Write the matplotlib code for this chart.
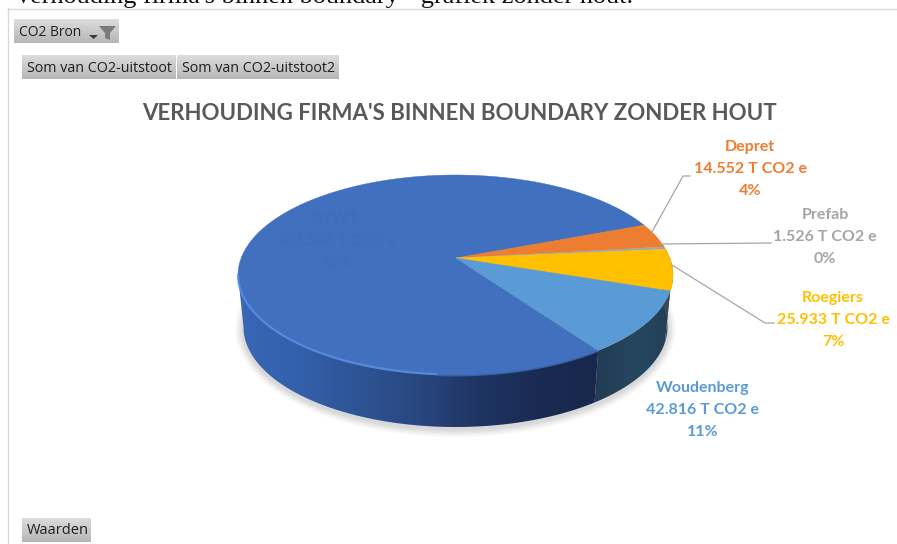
import numpy as np
import matplotlib
matplotlib.use("Agg")
import matplotlib.pyplot as plt
from matplotlib.patches import Polygon, Rectangle
from matplotlib.colors import LinearSegmentedColormap

names = ["ATWT", "Depret", "Prefab", "Roegiers", "Woudenberg"]
values = [302503, 14552, 1526, 25933, 42816]
value_labels = ["302.503 T CO2 e", "14.552 T CO2 e", "1.526 T CO2 e", "25.933 T CO2 e", "42.816 T CO2 e"]
pct_labels = ["78%", "4%", "0%", "7%", "11%"]
colors = ["#4170BF", "#ED7D31", "#A5A5A5", "#FFC000", "#5B9BD5"]
text_colors = ["#3F6CBB", "#ED7D31", "#A5A5A5", "#FFC000", "#5B9BD5"]
title = "VERHOUDING FIRMA'S BINNEN BOUNDARY ZONDER HOUT"

W, H = 897, 544
fig = plt.figure(figsize=(W / 100, H / 100), dpi=100)
ax = fig.add_axes([0, 0, 1, 1])
ax.set_xlim(0, W)
ax.set_ylim(H, 0)
ax.axis("off")

CX, CY, A, B = 455.5, 275, 217.5, 100
AX0, AY0 = 456, 258
DEPTH = 52
START = -49.0
BOTTOM_A = 212


def pt(t, dy=0, a=A):
    t = np.radians(t)
    return np.column_stack([CX + a * np.cos(t), CY - B * np.sin(t) + dy])


def gradient(clip, cmap_colors, extent, zorder, horizontal=True):
    cm = LinearSegmentedColormap.from_list("g", cmap_colors)
    g = np.linspace(0, 1, 256)
    g = g[None, :] if horizontal else g[:, None]
    im = ax.imshow(g, cmap=cm, extent=extent, aspect="auto", zorder=zorder, interpolation="bilinear")
    im.set_clip_path(clip)


# slice angles, clockwise on the screen
frac = np.array(values, float) / sum(values) * 360
ang_ends = START - np.cumsum(frac)
ang_starts = np.r_[START, ang_ends[:-1]]
ang_starts_norm = ((ang_starts + 180) % 360) - 180
ang_ends_norm = ang_starts_norm - frac

# soft shadow beneath the pie
tt = np.linspace(0, 360, 240)
for grow in [8, 6, 4.5, 3, 1.5]:
    ax.add_patch(Polygon(np.column_stack([CX + (BOTTOM_A + grow) * np.cos(np.radians(tt)),
                                          CY + DEPTH + 2 + (B + grow) * np.sin(np.radians(tt))]),
                         closed=True, fc="#000000", ec="none", alpha=0.03, zorder=1))


def wall(t0, t1):
    tt = np.linspace(t0, t1, 150)
    return np.vstack([pt(tt), pt(tt[::-1], DEPTH, BOTTOM_A)])


# side walls
w_start, w_end = ang_starts_norm[4], ang_ends_norm[4]
p = Polygon(wall(w_start, w_end), closed=True, fc="none", ec="none")
ax.add_patch(p)
gradient(p, ["#213A52", "#264660", "#223D55"], (590, 680, H, 0), 2)
ax.add_patch(Polygon(wall(ang_starts_norm[3], ang_ends_norm[3]), closed=True, fc="#3A4A50", ec="none", zorder=2))
p2 = Polygon(wall(-180, w_end), closed=True, fc="none", ec="none")
ax.add_patch(p2)
gradient(p2, ["#3A67B6", "#3360AA", "#2E5494", "#284780", "#1F3463", "#1A2B53", "#18274B"], (238, 600, H, 0), 2)

# top face
for s, e, c in zip(ang_starts_norm, ang_ends_norm, colors):
    tt = np.linspace(s, e, max(int(abs(s - e)) * 2, 4))
    poly = np.vstack([[AX0, AY0], pt(tt)])
    ax.add_patch(Polygon(poly, closed=True, fc=c, ec=c, lw=0.3, zorder=4))

# bevel highlight along the front rim of the ATWT slice
rim = np.linspace(-180, -95, 100)
ax.plot(*pt(rim, -0.5).T, color="#5C8EE6", lw=1.6, alpha=0.8, zorder=4.6, solid_capstyle="round")
rim = np.linspace(-95, w_end, 60)
ax.plot(*pt(rim, 0.5).T, color="#3D66AE", lw=1.3, alpha=0.9, zorder=4.6, solid_capstyle="butt")

# leader lines
LEAD = "#A6A6A6"
ax.plot([652, 683, 690], [232, 176, 176], color=LEAD, lw=0.9, zorder=5)
ax.plot([660, 771], [244, 243], color=LEAD, lw=0.9, zorder=5)
ax.plot([672, 765, 774], [265, 323, 323], color=LEAD, lw=0.9, zorder=5)

# labels
font = ["Lato", "DejaVu Sans"]
positions = [(335, 219), (750, 147), (825, 215), (833, 298), (703, 388)]
LH = 22
for name, val, pct, c, (x, y) in zip(names, value_labels, pct_labels, text_colors, positions):
    for k, s in enumerate([name, val, pct]):
        ax.text(x, y + k * LH, s, color=c, ha="center", va="center", fontsize=11.5,
                fontweight="bold", family=font, zorder=4.5 if name == "ATWT" else 6)

ax.text(459, 113, title, color="#595959", ha="center", va="center", fontsize=16,
        fontweight="bold", family=font, zorder=6)

# frame of the chart
ax.plot([7.5, 7.5], [8, H], color="#D9D9D9", lw=1.0, zorder=0)
ax.plot([7.5, 897], [8.5, 8.5], color="#D9D9D9", lw=1.0, zorder=0)

# caption above the chart, cut off by the top edge
ax.text(14, 3, "Verhouding firma's binnen boundary - grafiek zonder hout.", color="#111111",
        ha="left", va="baseline", fontsize=18.9, family="Liberation Serif", zorder=7)


# pivot field buttons
def button(x0, y0, x1, y1, label, tx, fs):
    r = Rectangle((x0, y0), x1 - x0, y1 - y0, fc="none", ec="none")
    ax.add_patch(r)
    gradient(r, ["#DDDDDD", "#C9C9C9", "#B6B6B6"], (x0, x1, y1, y0), 7, horizontal=False)
    ax.text(tx, (y0 + y1) / 2 + 1, label, color="#1F1F1F", ha="left", va="center", fontsize=fs,
            family="Open Sans", zorder=8)


button(14, 19, 119, 43, "CO2 Bron", 19, 10.0)
ax.add_patch(Polygon([[89, 35], [98, 35], [93.5, 39]], closed=True, fc="#3A3A3A", ec="none", zorder=8))
ax.add_patch(Polygon([[99, 26], [116, 26], [110, 33], [110, 40], [105, 38], [105, 33]], closed=True,
                     fc="#7B7B7B", ec="none", zorder=8))
button(22, 55, 176, 79, "Som van CO2-uitstoot", 27, 10.3)
button(177, 55, 339, 79, "Som van CO2-uitstoot2", 182, 10.3)
button(22, 518, 91, 542, "Waarden", 27, 10.5)

ax.set_xlim(0, W)
ax.set_ylim(H, 0)
fig.savefig("out.png", dpi=100)
